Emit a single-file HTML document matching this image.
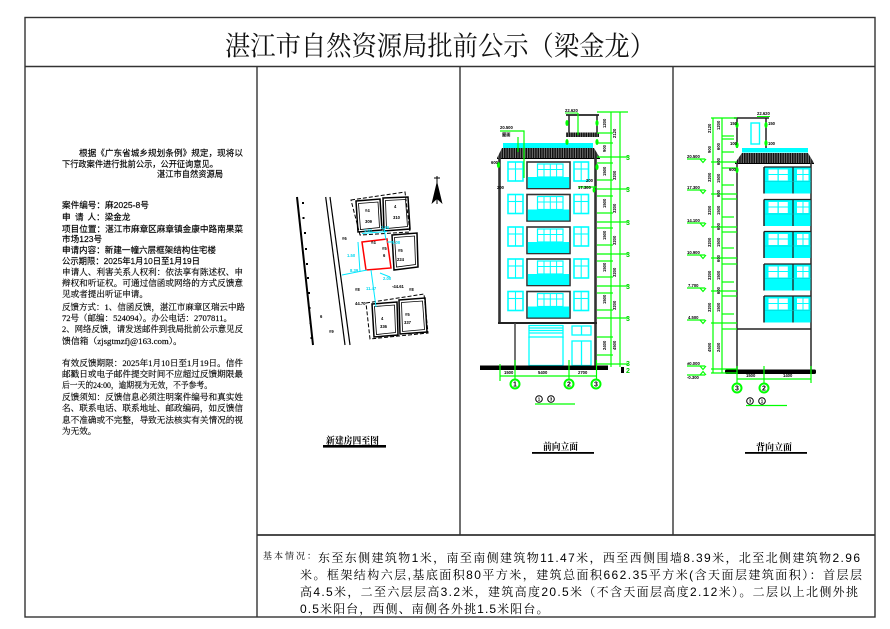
<!DOCTYPE html>
<html><head><meta charset="utf-8">
<style>
html,body{margin:0;padding:0;background:#fff;}
svg{display:block;}
</style></head><body>
<svg width="890" height="629" viewBox="0 0 890 629" xmlns="http://www.w3.org/2000/svg">
<defs>
<pattern id="tile" width="2.4" height="10" patternUnits="userSpaceOnUse">
<rect width="2.4" height="10" fill="#111"/><rect x="1.6" width="0.7" height="10" fill="#999"/>
</pattern>
<g id="ff">
 <rect x="508" y="0" width="15" height="19" fill="#fff" stroke="#0ff" stroke-width="1.6"/>
 <line x1="515.5" y1="0" x2="515.5" y2="19" stroke="#0ff" stroke-width="1.1"/>
 <line x1="508" y1="7" x2="523" y2="7" stroke="#0ff" stroke-width="1.1"/>
 <rect x="574" y="0" width="14.5" height="19" fill="#fff" stroke="#0ff" stroke-width="1.6"/>
 <line x1="581.2" y1="0" x2="581.2" y2="19" stroke="#0ff" stroke-width="1.1"/>
 <line x1="574" y1="7" x2="588.5" y2="7" stroke="#0ff" stroke-width="1.1"/>
 <rect x="527" y="0" width="43" height="26.5" fill="#fff" stroke="#333" stroke-width="1.6"/>
 <rect x="537.5" y="2" width="25.5" height="13" fill="none" stroke="#0ff" stroke-width="1.2"/>
 <line x1="544" y1="2" x2="544" y2="15" stroke="#0ff" stroke-width="1"/>
 <line x1="550.3" y1="2" x2="550.3" y2="15" stroke="#0ff" stroke-width="1"/>
 <line x1="556.6" y1="2" x2="556.6" y2="15" stroke="#0ff" stroke-width="1"/>
 <line x1="537.5" y1="7.5" x2="563" y2="7.5" stroke="#0ff" stroke-width="1"/>
 <rect x="527.8" y="15" width="41.4" height="11" fill="#0ff"/>
</g>
<g id="bf">
 <rect x="764.5" y="0.5" width="46" height="26" fill="#0ff"/>
 <rect x="768.5" y="2.5" width="9" height="4.5" fill="#fff"/>
 <rect x="778.8" y="2.5" width="9" height="4.5" fill="#fff"/>
 <rect x="768.5" y="8" width="9" height="5.5" fill="#fff"/>
 <rect x="778.8" y="8" width="9" height="5.5" fill="#fff"/>
 <rect x="797" y="2.5" width="5.5" height="4.5" fill="#fff"/>
 <rect x="803.5" y="2.5" width="5" height="4.5" fill="#fff"/>
 <rect x="797" y="8" width="5.5" height="5.5" fill="#fff"/>
 <rect x="803.5" y="8" width="5" height="5.5" fill="#fff"/>
 <line x1="764" y1="0" x2="811" y2="0" stroke="#222" stroke-width="1.3"/>
 <line x1="764" y1="0" x2="764" y2="26.5" stroke="#222" stroke-width="1.5"/>
 <line x1="793" y1="0" x2="793" y2="26.5" stroke="#222" stroke-width="1.3"/>
 <line x1="765" y1="14.5" x2="811" y2="14.5" stroke="#0cc" stroke-width="0.6"/>
</g>
</defs>

<!-- frame -->
<g stroke="#333" stroke-width="1.4" fill="none">
<rect x="25" y="17.5" width="850" height="599.5"/>
<line x1="25" y1="66.5" x2="875" y2="66.5"/>
<line x1="257" y1="66.5" x2="257" y2="617"/>
<line x1="460" y1="66.5" x2="460" y2="535"/>
<line x1="673" y1="66.5" x2="673" y2="535"/>
<line x1="257" y1="535" x2="875" y2="535" stroke-width="1.8"/>
</g>

<!-- title -->
<text x="225" y="55.5" font-size="27" font-family="Liberation Serif, Noto Serif CJK SC, serif" textLength="430" lengthAdjust="spacingAndGlyphs" fill="#111">湛江市自然资源局批前公示（梁金龙）</text>

<!-- left panel text -->
<g font-family="Liberation Sans, Noto Sans CJK SC, sans-serif" font-size="8.6" fill="#000" stroke="#000" stroke-width="0.15">
<text x="79" y="156" textLength="164" lengthAdjust="spacingAndGlyphs">根据《广东省城乡规划条例》规定，现将以</text>
<text x="62" y="167" textLength="156" lengthAdjust="spacingAndGlyphs">下行政案件进行批前公示，公开征询意见。</text>
<text x="157" y="177" textLength="66" lengthAdjust="spacingAndGlyphs">湛江市自然资源局</text>
<text x="62" y="208">案件编号：麻2025-8号</text>
<text x="62" y="220">申</text><text x="75" y="220">请</text><text x="87.5" y="220">人：梁金龙</text>
<text x="62" y="232" textLength="181" lengthAdjust="spacingAndGlyphs">项目位置：湛江市麻章区麻章镇金康中路南果菜</text>
<text x="62" y="242">市场123号</text>
<text x="62" y="253" textLength="154" lengthAdjust="spacingAndGlyphs">申请内容：新建一幢六层框架结构住宅楼</text>
<text x="62" y="264" textLength="138" lengthAdjust="spacingAndGlyphs">公示期限：2025年1月10日至1月19日</text>
</g>
<g font-family="Liberation Serif, Noto Serif CJK SC, serif" font-size="8.6" fill="#000" stroke="#000" stroke-width="0.15">
<text x="62" y="275" textLength="181" lengthAdjust="spacingAndGlyphs">申请人、利害关系人权利：依法享有陈述权、申</text>
<text x="62" y="286" textLength="181" lengthAdjust="spacingAndGlyphs">辩权和听证权。可通过信函或网络的方式反馈意</text>
<text x="62" y="297" textLength="86" lengthAdjust="spacingAndGlyphs">见或者提出听证申请。</text>
<text x="62" y="310" textLength="183" lengthAdjust="spacingAndGlyphs">反馈方式：1、信函反馈，湛江市麻章区瑞云中路</text>
<text x="62" y="321" textLength="170" lengthAdjust="spacingAndGlyphs">72号（邮编：524094）。办公电话：2707811。</text>
<text x="62" y="332" textLength="181" lengthAdjust="spacingAndGlyphs">2、网络反馈，请发送邮件到我局批前公示意见反</text>
<text x="62" y="344" textLength="120" lengthAdjust="spacingAndGlyphs">馈信箱（zjsgtmzfj@163.com）。</text>
<text x="62" y="366" textLength="181" lengthAdjust="spacingAndGlyphs">有效反馈期限：2025年1月10日至1月19日。信件</text>
<text x="62" y="377" textLength="181" lengthAdjust="spacingAndGlyphs">邮戳日或电子邮件提交时间不应超过反馈期限最</text>
<text x="62" y="388" textLength="150" lengthAdjust="spacingAndGlyphs">后一天的24:00，逾期视为无效，不予参考。</text>
<text x="62" y="400" textLength="181" lengthAdjust="spacingAndGlyphs">反馈须知：反馈信息必须注明案件编号和真实姓</text>
<text x="62" y="411" textLength="181" lengthAdjust="spacingAndGlyphs">名、联系电话、联系地址、邮政编码，如反馈信</text>
<text x="62" y="423" textLength="181" lengthAdjust="spacingAndGlyphs">息不准确或不完整，导致无法核实有关情况的视</text>
<text x="62" y="434">为无效。</text>
</g>

<!-- ============ SITE PLAN ============ -->
<g>
<line x1="297" y1="197" x2="313" y2="345" stroke="#000" stroke-width="2"/>
<g fill="#000">
<rect x="302" y="202" width="2" height="2"/><rect x="302.5" y="217" width="2" height="2"/>
<rect x="304" y="232" width="2" height="2"/><rect x="305" y="248" width="2" height="2"/>
<rect x="306" y="263" width="2" height="2"/><rect x="307" y="277" width="2" height="2"/>
<rect x="308" y="292" width="2" height="2"/><rect x="308.5" y="307" width="2" height="2"/>
<rect x="309.5" y="322" width="2" height="2"/><rect x="310.5" y="337" width="2" height="2"/>
</g>
<line x1="325.7" y1="197" x2="345" y2="345" stroke="#000" stroke-width="1.2"/>
<line x1="330" y1="197" x2="350" y2="345" stroke="#000" stroke-width="1.2"/>
<g fill="none" stroke="#000">
<polygon points="351,200 405,192 410,232 360,235" stroke-dasharray="4,2" stroke-width="1"/>
<polygon points="356,201 380,199 382,230 358,232" stroke-width="1.5"/>
<polygon points="358.5,203.5 378,202 379.5,227.5 360.5,229.5" stroke-width="0.8"/>
<polygon points="383,198 408,197 410,229 384,231" stroke-width="1.5"/>
<polygon points="385.5,200.5 405.5,199.5 407.5,226.5 386.5,228.5" stroke-width="0.8"/>
<polygon points="392,235 417,233 418,267 394,270" stroke-width="1.5"/>
<polygon points="394.5,237.5 414.5,236 415.5,264.5 396.5,267" stroke-width="0.8"/>
<polygon points="366,303 424,294 428,333 370,339" stroke-dasharray="4,2" stroke-width="1"/>
<polygon points="372,304 397,302 398,335 374,337" stroke-width="1.5"/>
<polygon points="374.5,306.5 394.5,305 395.5,332.5 376.5,334.5" stroke-width="0.8"/>
<polygon points="399,300 425,298 427,332 400,334" stroke-width="1.5"/>
<polygon points="401.5,302.5 422.5,301 424.5,329.5 402.5,331.5" stroke-width="0.8"/>
</g>
<polygon points="362,242 387,239 391,268 366,270" fill="none" stroke="#f00" stroke-width="1.5"/>
<g stroke="#00e8ff" stroke-width="1" fill="none">
<line x1="362" y1="233.5" x2="387" y2="231.5"/>
<line x1="384" y1="228" x2="386" y2="240"/>
<line x1="358" y1="242" x2="360" y2="272"/>
<line x1="342" y1="275" x2="367" y2="270"/>
<line x1="371" y1="270" x2="376" y2="307"/>
<line x1="387" y1="242" x2="393" y2="242"/>
<line x1="380" y1="273" x2="390" y2="277"/>
</g>
<g font-family="Liberation Sans, sans-serif" font-size="4.2" fill="#00d8f0" font-weight="bold">
<text x="364" y="232">1.81</text><text x="381" y="229">2.96</text>
<text x="347" y="257">1.50</text><text x="350" y="272">8.39</text>
<text x="366" y="290">11.47</text><text x="392" y="244">1.00</text>
<text x="383" y="280">2.00</text>
</g>
<g font-family="Liberation Sans, sans-serif" font-size="4.2" fill="#000" font-weight="bold">
<text x="365" y="212">#4</text><text x="365" y="223">309</text>
<text x="394" y="208">4</text><text x="393" y="219">310</text>
<text x="398" y="252">#5</text><text x="397" y="261">224</text>
<text x="382" y="250">#5</text><text x="383" y="257">6</text>
<text x="371" y="244">#4</text>
<text x="342" y="240">#6</text>
<text x="355" y="291">#8</text><text x="355" y="305">44.70</text>
<text x="392" y="288">-44.61</text><text x="409" y="291">#8</text>
<text x="320" y="318">6</text><text x="329" y="333">#9</text>
<text x="381" y="320">4</text><text x="380" y="328">336</text>
<text x="405" y="316">#5</text><text x="404" y="324">337</text>
</g>
<line x1="437" y1="176" x2="437" y2="204" stroke="#000" stroke-width="1"/>
<line x1="434" y1="178" x2="440" y2="178" stroke="#000" stroke-width="1"/>
<polygon points="437,181 431.5,204 437,199 442.5,204" fill="#000"/>
</g>
<text x="326" y="444" font-size="9.5" font-weight="bold" font-family="Liberation Serif, Noto Serif CJK SC, serif" textLength="53" lengthAdjust="spacingAndGlyphs">新建房四至图</text>
<rect x="323" y="445" width="63" height="2.6" fill="#000"/>

<!-- ============ FRONT ELEVATION ============ -->
<g>
<line x1="566" y1="115" x2="599" y2="115" stroke="#222" stroke-width="1.8"/>
<line x1="569" y1="115" x2="569" y2="133" stroke="#222" stroke-width="1.5"/>
<line x1="597" y1="115" x2="597" y2="133" stroke="#222" stroke-width="1.5"/>
<rect x="566" y="132.5" width="33" height="4.5" fill="url(#tile)"/>
<line x1="578" y1="113" x2="578" y2="135" stroke="#0f0" stroke-width="1.2"/>
<line x1="565" y1="113" x2="578" y2="113" stroke="#0f0" stroke-width="1"/>
<rect x="503" y="143" width="90" height="5" fill="#0ff"/>
<polygon points="502,148 594,148 600,158 497,158" fill="url(#tile)"/>
<line x1="497" y1="158.5" x2="600" y2="158.5" stroke="#000" stroke-width="1"/>
<line x1="499.5" y1="158" x2="499.5" y2="323" stroke="#333" stroke-width="2.6"/>
<line x1="595.5" y1="158" x2="595.5" y2="367" stroke="#333" stroke-width="2.6"/>
<line x1="498" y1="323" x2="597" y2="323" stroke="#222" stroke-width="2"/>
<use href="#ff" transform="translate(0,162)"/>
<use href="#ff" transform="translate(0,194.5)"/>
<use href="#ff" transform="translate(0,227)"/>
<use href="#ff" transform="translate(0,259)"/>
<use href="#ff" transform="translate(0,291.5)"/>
<line x1="515" y1="323" x2="515" y2="367" stroke="#444" stroke-width="1.5"/>
<g stroke="#0ff" stroke-width="1.3" fill="none">
<line x1="529" y1="325.5" x2="563" y2="325.5"/>
<line x1="529" y1="328" x2="563" y2="328"/>
<line x1="529" y1="330.5" x2="563" y2="330.5"/>
<line x1="529" y1="333" x2="563" y2="333"/>
<line x1="529" y1="325" x2="529" y2="338"/><line x1="563" y1="325" x2="563" y2="338"/>
<rect x="529" y="337" width="34" height="28.5"/>
<rect x="572" y="326" width="19" height="9"/>
<line x1="581.5" y1="326" x2="581.5" y2="335"/>
<rect x="572" y="341" width="19" height="24.5"/>
<line x1="581.5" y1="341" x2="581.5" y2="365.5"/>
</g>
<rect x="480" y="365.5" width="128" height="4.5" fill="#000"/>
<g stroke="#0f0" stroke-width="1.2" fill="none">
<line x1="500" y1="376" x2="597" y2="376"/>
<line x1="500" y1="364" x2="500" y2="381"/>
<line x1="515" y1="360" x2="515" y2="379.5"/>
<line x1="569" y1="360" x2="569" y2="379.5"/>
<line x1="596.5" y1="360" x2="596.5" y2="379.5"/>
<line x1="611" y1="112" x2="611" y2="367"/>
<line x1="620" y1="112" x2="620" y2="367"/>
<line x1="597" y1="112" x2="628" y2="112"/>
<line x1="597" y1="157" x2="628" y2="157"/>
<line x1="597" y1="189" x2="628" y2="189"/>
<line x1="597" y1="222" x2="628" y2="222"/>
<line x1="597" y1="254" x2="628" y2="254"/>
<line x1="597" y1="286" x2="628" y2="286"/>
<line x1="597" y1="318" x2="628" y2="318"/>
<line x1="597" y1="364" x2="628" y2="364"/>
<line x1="597" y1="133" x2="613" y2="133"/>
<line x1="597" y1="143" x2="613" y2="143"/>
<line x1="597" y1="163" x2="613" y2="163"/>
<line x1="597" y1="180" x2="613" y2="180"/>
<line x1="597" y1="196" x2="613" y2="196"/>
<line x1="597" y1="213" x2="613" y2="213"/>
<line x1="597" y1="228" x2="613" y2="228"/>
<line x1="597" y1="245" x2="613" y2="245"/>
<line x1="597" y1="261" x2="613" y2="261"/>
<line x1="597" y1="277" x2="613" y2="277"/>
<line x1="597" y1="293" x2="613" y2="293"/>
<line x1="597" y1="310" x2="613" y2="310"/>
<line x1="597" y1="337" x2="613" y2="337"/>
<line x1="597" y1="355" x2="613" y2="355"/>
<polyline points="500,131 524,131 524,178"/>
<line x1="518" y1="137" x2="518" y2="152"/>
<line x1="578" y1="187" x2="597" y2="187"/>
</g>
<g fill="#0f0">
<ellipse cx="567" cy="123" rx="1.6" ry="3"/><ellipse cx="597" cy="123" rx="1.6" ry="3"/>
<ellipse cx="567" cy="142" rx="1.6" ry="3"/><ellipse cx="597" cy="142" rx="1.6" ry="3"/>
<ellipse cx="498.5" cy="165" rx="1.6" ry="3"/><ellipse cx="597" cy="167" rx="1.6" ry="3"/>
<ellipse cx="594" cy="190" rx="1.4" ry="2.5"/>
</g>
<g font-family="Liberation Sans, sans-serif" font-size="7" fill="#0c0" font-weight="bold">
<text x="626" y="160">3</text><text x="626" y="192">3</text><text x="626" y="225">3</text>
<text x="626" y="257">3</text><text x="626" y="289">3</text><text x="626" y="321">3</text>
<text x="626" y="366">3</text><text x="626" y="373">2</text>
</g>
<g font-family="Liberation Sans, sans-serif" font-size="4.2" fill="#000" font-weight="bold">
<text x="565" y="112">22.620</text>
<text x="500" y="129">20.500</text><text x="502" y="136">屋面</text>
<text x="491" y="164">600</text><text x="497" y="189">200</text>
<text x="586" y="182">200</text><text x="578" y="189">17.300</text>
<text x="504" y="374">1500</text><text x="538" y="374">5400</text><text x="578" y="374">2700</text>
<rect x="621" y="367" width="3" height="6"/>
<text transform="translate(606,128) rotate(-90)">1200</text>
<text transform="translate(606,152) rotate(-90)">900</text>
<text transform="translate(606,176) rotate(-90)">1500</text>
<text transform="translate(606,208) rotate(-90)">1500</text>
<text transform="translate(606,240) rotate(-90)">1500</text>
<text transform="translate(606,272) rotate(-90)">1500</text>
<text transform="translate(606,304) rotate(-90)">1500</text>
<text transform="translate(606,350) rotate(-90)">2400</text>
<text transform="translate(616,138) rotate(-90)">2120</text>
<text transform="translate(616,180) rotate(-90)">3200</text>
<text transform="translate(616,213) rotate(-90)">3200</text>
<text transform="translate(616,245) rotate(-90)">3200</text>
<text transform="translate(616,277) rotate(-90)">3200</text>
<text transform="translate(616,310) rotate(-90)">3200</text>
<text transform="translate(616,350) rotate(-90)">4500</text>
</g>
<g stroke="#0f0" stroke-width="2" fill="#fff">
<circle cx="515" cy="384" r="4.5"/><circle cx="569" cy="384" r="4.5"/><circle cx="596" cy="384" r="4.5"/>
</g>
<g font-family="Liberation Sans, sans-serif" font-size="7" fill="#000" font-weight="bold" text-anchor="middle">
<text x="515" y="386.5">1</text><text x="569" y="386.5">2</text><text x="596" y="386.5">3</text>
</g>
<g stroke="#000" stroke-width="1" fill="#fff">
<circle cx="539" cy="399" r="3.3"/><circle cx="551" cy="399" r="3.3"/>
</g>
<g font-family="Liberation Sans, sans-serif" font-size="4.5" fill="#000" font-weight="bold" text-anchor="middle">
<text x="539" y="400.6">1</text><text x="551" y="400.6">3</text>
</g>
<line x1="535" y1="404" x2="575" y2="404" stroke="#0f0" stroke-width="1.3"/>
</g>
<text x="543" y="450" font-size="9.5" font-weight="bold" font-family="Liberation Serif, Noto Serif CJK SC, serif" textLength="35" lengthAdjust="spacingAndGlyphs">前向立面</text>
<rect x="532" y="452" width="62" height="1.8" fill="#000"/>

<!-- ============ BACK ELEVATION ============ -->
<g>
<line x1="734" y1="118" x2="769" y2="118" stroke="#222" stroke-width="1.6"/>
<line x1="737" y1="118" x2="737" y2="148" stroke="#222" stroke-width="1.5"/>
<line x1="766" y1="118" x2="766" y2="148" stroke="#222" stroke-width="1.5"/>
<rect x="751" y="123" width="8.5" height="21" fill="#fff" stroke="#0ff" stroke-width="1.4"/>
<line x1="757" y1="116.5" x2="770" y2="116.5" stroke="#0f0" stroke-width="1"/>
<rect x="742" y="148" width="66" height="4.5" fill="#0ff"/>
<polygon points="742,153 808,153 814,163 735,163" fill="url(#tile)"/>
<line x1="735" y1="163.5" x2="814" y2="163.5" stroke="#000" stroke-width="1"/>
<line x1="737" y1="163" x2="737" y2="372" stroke="#333" stroke-width="1.6"/>
<line x1="811" y1="163" x2="811" y2="372" stroke="#333" stroke-width="1.6"/>
<line x1="737" y1="329" x2="811" y2="329" stroke="#222" stroke-width="1.6"/>
<use href="#bf" transform="translate(0,167)"/>
<use href="#bf" transform="translate(0,199.5)"/>
<use href="#bf" transform="translate(0,231.5)"/>
<use href="#bf" transform="translate(0,264)"/>
<use href="#bf" transform="translate(0,296)"/>
<rect x="725" y="369.5" width="91" height="4.5" rx="1.5" fill="#000"/>
<g stroke="#0f0" stroke-width="1.2" fill="none">
<line x1="737" y1="379" x2="811" y2="379"/>
<line x1="737" y1="366" x2="737" y2="383.5"/>
<line x1="764" y1="366" x2="764" y2="383.5"/>
<line x1="811" y1="366" x2="811" y2="383"/>
<line x1="713" y1="118" x2="713" y2="373"/>
<line x1="722" y1="118" x2="722" y2="373"/>
<line x1="711" y1="118" x2="737" y2="118"/>
<line x1="711" y1="162" x2="737" y2="162"/>
<line x1="711" y1="194" x2="737" y2="194"/>
<line x1="711" y1="227" x2="737" y2="227"/>
<line x1="711" y1="258" x2="737" y2="258"/>
<line x1="711" y1="291" x2="737" y2="291"/>
<line x1="711" y1="323" x2="737" y2="323"/>
<line x1="711" y1="369" x2="737" y2="369"/>
<line x1="711" y1="373" x2="737" y2="373"/>
<line x1="722" y1="136" x2="734" y2="136"/>
<line x1="722" y1="139" x2="734" y2="139"/>
<line x1="722" y1="152" x2="734" y2="152"/>
<line x1="722" y1="168" x2="737" y2="168"/>
<line x1="722" y1="185" x2="734" y2="185"/>
<line x1="722" y1="199" x2="737" y2="199"/>
<line x1="722" y1="217" x2="734" y2="217"/>
<line x1="722" y1="232" x2="737" y2="232"/>
<line x1="722" y1="248" x2="734" y2="248"/>
<line x1="722" y1="264" x2="737" y2="264"/>
<line x1="722" y1="282" x2="734" y2="282"/>
<line x1="722" y1="296" x2="737" y2="296"/>
<line x1="722" y1="314" x2="734" y2="314"/>
<line x1="722" y1="329" x2="737" y2="329"/>
<line x1="687" y1="159" x2="705" y2="159"/>
<line x1="687" y1="190" x2="705" y2="190"/>
<line x1="687" y1="223" x2="705" y2="223"/>
<line x1="687" y1="255" x2="705" y2="255"/>
<line x1="687" y1="288" x2="705" y2="288"/>
<line x1="687" y1="320" x2="705" y2="320"/>
<line x1="687" y1="366" x2="705" y2="366"/>
<line x1="687" y1="375" x2="705" y2="375"/>
<polyline points="700,159 703,162.5 706,159"/>
<polyline points="700,190 703,193.5 706,190"/>
<polyline points="700,223 703,226.5 706,223"/>
<polyline points="700,255 703,258.5 706,255"/>
<polyline points="700,288 703,291.5 706,288"/>
<polyline points="700,320 703,323.5 706,320"/>
<polyline points="700,366 703,369.5 706,366"/>
<polyline points="700,375 703,371.5 706,375"/>
</g>
<g fill="#0f0">
<ellipse cx="737" cy="125" rx="1.6" ry="3"/><ellipse cx="766" cy="125" rx="1.6" ry="3"/>
<ellipse cx="737" cy="145" rx="1.6" ry="3"/><ellipse cx="766" cy="143" rx="1.6" ry="3"/>
<ellipse cx="737" cy="170" rx="1.6" ry="3"/>
</g>
<g font-family="Liberation Sans, sans-serif" font-size="4.2" fill="#000" font-weight="bold">
<text x="757" y="115">22.620</text>
<text x="730" y="125">150</text><text x="768" y="125">150</text>
<text x="730" y="145">100</text><text x="768" y="145">100</text>
<text x="729" y="171">600</text>
<text x="687" y="158">20.500</text><text x="687" y="189">17.300</text>
<text x="687" y="222">14.100</text><text x="687" y="254">10.900</text>
<text x="688" y="287">7.700</text><text x="688" y="319">4.500</text>
<text x="687" y="365">±0.000</text><text x="687" y="379">-0.300</text>
<text x="746" y="377">1500</text><text x="783" y="377">1400</text>
<text transform="translate(711,133) rotate(-90)">2120</text>
<text transform="translate(711,153) rotate(-90)">900</text>
<text transform="translate(711,182) rotate(-90)">3200</text>
<text transform="translate(711,215) rotate(-90)">3200</text>
<text transform="translate(711,247) rotate(-90)">3200</text>
<text transform="translate(711,280) rotate(-90)">3200</text>
<text transform="translate(711,312) rotate(-90)">3200</text>
<text transform="translate(711,352) rotate(-90)">4500</text>
<text transform="translate(720,130) rotate(-90)">1200</text>
<text transform="translate(720,150) rotate(-90)">600</text>
<text transform="translate(720,165) rotate(-90)">600</text>
<text transform="translate(720,183) rotate(-90)">1500</text>
<text transform="translate(720,197) rotate(-90)">600</text>
<text transform="translate(720,215) rotate(-90)">1500</text>
<text transform="translate(720,230) rotate(-90)">600</text>
<text transform="translate(720,247) rotate(-90)">1500</text>
<text transform="translate(720,262) rotate(-90)">600</text>
<text transform="translate(720,280) rotate(-90)">1500</text>
<text transform="translate(720,294) rotate(-90)">600</text>
<text transform="translate(720,312) rotate(-90)">1500</text>
<text transform="translate(720,352) rotate(-90)">2400</text>
</g>
<g stroke="#0f0" stroke-width="2" fill="#fff">
<circle cx="737" cy="388" r="4.5"/><circle cx="764" cy="388" r="4.5"/>
</g>
<g font-family="Liberation Sans, sans-serif" font-size="7" fill="#000" font-weight="bold" text-anchor="middle">
<text x="737" y="390.5">3</text><text x="764" y="390.5">2</text>
</g>
<g stroke="#000" stroke-width="1" fill="#fff">
<circle cx="750" cy="401" r="3.3"/><circle cx="762" cy="401" r="3.3"/>
</g>
<g font-family="Liberation Sans, sans-serif" font-size="4.5" fill="#000" font-weight="bold" text-anchor="middle">
<text x="750" y="402.6">3</text><text x="762" y="402.6">1</text>
</g>
<line x1="746" y1="405.5" x2="787" y2="405.5" stroke="#0f0" stroke-width="1.3"/>
</g>
<text x="756" y="450.5" font-size="9.5" font-weight="bold" font-family="Liberation Serif, Noto Serif CJK SC, serif" textLength="36" lengthAdjust="spacingAndGlyphs">背向立面</text>
<rect x="745" y="452" width="62" height="1.8" fill="#000"/>

<!-- ============ BOTTOM TEXT ============ -->
<text x="263" y="559" font-size="9" font-family="Liberation Serif, Noto Serif CJK SC, serif" textLength="53" lengthAdjust="spacing">基本情况：</text>
<g font-family="Liberation Sans, Noto Serif CJK SC, serif" font-size="12" fill="#000">
<text x="318" y="562" textLength="542" lengthAdjust="spacing">东至东侧建筑物1米，南至南侧建筑物11.47米，西至西侧围墙8.39米，北至北侧建筑物2.96</text>
<text x="300" y="579" textLength="562" lengthAdjust="spacing">米。框架结构六层,基底面积80平方米，建筑总面积662.35平方米(含天面层建筑面积）：首层层</text>
<text x="300" y="596" textLength="558" lengthAdjust="spacing">高4.5米，二至六层层高3.2米，建筑高度20.5米（不含天面层高度2.12米）。二层以上北侧外挑</text>
<text x="300" y="613" letter-spacing="1.1">0.5米阳台，西侧、南侧各外挑1.5米阳台。</text>
</g>
</svg>
</body></html>
